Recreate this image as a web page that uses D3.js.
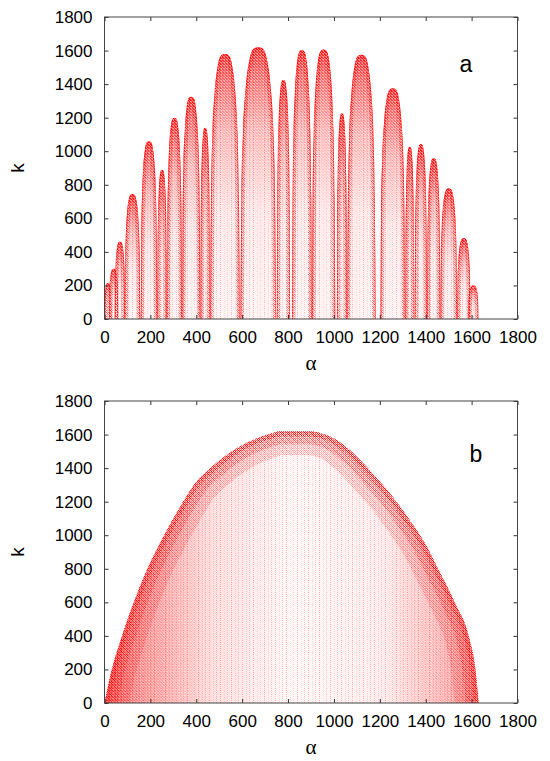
<!DOCTYPE html>
<html>
<head>
<meta charset="utf-8">
<script src="https://cdn.jsdelivr.net/npm/d3@7"></script>
<style>
  body { margin: 0; background: #fff; }
</style>
</head>
<body>
<script>
// ---- data ----
var alphaTicks = [0, 200, 400, 600, 800, 1000, 1200, 1400, 1600, 1800];
var kTicks = [0, 200, 400, 600, 800, 1000, 1200, 1400, 1600, 1800];

// panel a: one arch per lobe (alpha where it starts / ends, k at the top)
var lobeStart = [0, 20, 45, 88, 158, 230, 272, 338, 418, 460, 592, 751, 817, 904, 1013, 1057, 1202, 1311, 1352, 1406, 1464, 1537, 1585];
var lobeEnd   = [30, 60, 90, 156, 230, 272, 338, 418, 460, 590, 748, 809, 904, 1006, 1057, 1182, 1311, 1350, 1406, 1464, 1537, 1595, 1630];
var lobePeak  = [215, 300, 460, 745, 1060, 890, 1200, 1325, 1140, 1580, 1620, 1424, 1603, 1607, 1226, 1575, 1375, 1027, 1043, 958, 779, 481, 200];
// shape of one arch, position across it vs. share of its height
var profileT = [0, 0.03, 0.08, 0.15, 0.25, 0.38, 0.5, 0.62, 0.75, 0.85, 0.92, 0.97, 1];
var profileH = [0, 0.45, 0.7, 0.85, 0.95, 0.995, 1, 0.995, 0.95, 0.85, 0.7, 0.45, 0];

// panel b: outer edge of the cloud
var envAlpha = [0, 31, 75, 136, 187, 260, 340, 391, 463, 580, 711, 769, 890, 940, 990, 1040, 1110, 1180, 1250, 1320, 1391, 1457, 1529, 1588, 1617, 1631];
var envK     = [0, 195, 394, 630, 800, 1000, 1194, 1303, 1402, 1521, 1600, 1620, 1620, 1610, 1584, 1540, 1455, 1350, 1240, 1110, 965, 791, 592, 395, 195, 0];

var W = 550, H = 761;
var RED = "#ff0000";

var svg = d3.select("body").append("svg")
  .attr("width", W).attr("height", H)
  .style("font-family", "'Liberation Sans', Arial, sans-serif");

var defs = svg.append("defs");

function addGrad(id, vertical, stops) {
  var gr = defs.append("linearGradient").attr("id", id)
    .attr("x1", 0).attr("y1", 0).attr("x2", vertical ? 0 : 1).attr("y2", vertical ? 1 : 0);
  stops.forEach(function (s) {
    gr.append("stop").attr("offset", s[0]).attr("stop-color", RED).attr("stop-opacity", s[1]);
  });
}
// fading fill for the arches (top dense, bottom sparse)
addGrad("lobeFade", true, [[0, 0.85], [0.1, 0.6], [0.3, 0.3], [0.6, 0.1], [1, 0.05]]);
// panel b: dense at both sides, sparse in the middle
addGrad("cloudFade", false, [[0, 0.7], [0.1, 0.45], [0.28, 0.15], [0.5, 0.03], [0.75, 0.08], [0.9, 0.3], [1, 0.5]]);

// dotted vertical streaks
var streaks = defs.append("pattern").attr("id", "streaks")
  .attr("patternUnits", "userSpaceOnUse").attr("width", 11).attr("height", 2);
[[0, 0, 0.7], [4, 1, 0.35], [7, 0, 0.5]].forEach(function (r) {
  streaks.append("rect").attr("x", r[0]).attr("y", r[1]).attr("width", 1).attr("height", 1)
    .attr("fill", RED).attr("opacity", r[2]);
});

// stipple for the dense bands
var stip = defs.append("pattern").attr("id", "stipple")
  .attr("patternUnits", "userSpaceOnUse").attr("width", 2).attr("height", 2);
[[0, 0, 1], [1, 1, 1], [1, 0, 0.3]].forEach(function (r) {
  stip.append("rect").attr("x", r[0]).attr("y", r[1]).attr("width", 1).attr("height", 1)
    .attr("fill", RED).attr("opacity", r[2]);
});

// white speckles to break up flat colour
var speck = defs.append("pattern").attr("id", "speck")
  .attr("patternUnits", "userSpaceOnUse").attr("width", 3).attr("height", 3);
[[0, 1], [2, 0], [1, 2], [2, 2]].forEach(function (r) {
  speck.append("rect").attr("x", r[0]).attr("y", r[1]).attr("width", 1).attr("height", 1)
    .attr("fill", "#fff");
});

function makePanel(top, bottom, letter, letterX, letterY) {
  var x = d3.scaleLinear().domain([0, 1800]).range([104.5, 517.5]);
  var y = d3.scaleLinear().domain([0, 1800]).range([bottom, top]);
  var g = svg.append("g");
  var plot = g.append("g");

  function axes() {
    var ax = g.append("g");
    var fmt = d3.format("d");
    var b = ax.append("g").attr("transform", "translate(0," + bottom + ")")
      .call(d3.axisBottom(x).tickValues(alphaTicks).tickSizeInner(-4).tickSizeOuter(0).tickPadding(12).tickFormat(fmt));
    var t = ax.append("g").attr("transform", "translate(0," + top + ")")
      .call(d3.axisTop(x).tickValues(alphaTicks).tickSizeInner(-4).tickSizeOuter(0).tickFormat(""));
    var l = ax.append("g").attr("transform", "translate(104.5,0)")
      .call(d3.axisLeft(y).tickValues(kTicks).tickSizeInner(-4).tickSizeOuter(0).tickPadding(12).tickFormat(fmt));
    var r = ax.append("g").attr("transform", "translate(517.5,0)")
      .call(d3.axisRight(y).tickValues(kTicks).tickSizeInner(-4).tickSizeOuter(0).tickFormat(""));
    [b, t, l, r].forEach(function (s) {
      s.select(".domain").remove();
      s.selectAll("line").attr("stroke", "#333");
      s.selectAll("text").attr("fill", "#000")
        .style("font-size", "17px").style("font-family", "'Liberation Sans', Arial, sans-serif");
    });
    ax.append("rect").attr("x", 104.5).attr("y", top)
      .attr("width", 413).attr("height", bottom - top)
      .attr("fill", "none").attr("stroke", "#444").attr("stroke-width", 1);

    g.append("text").attr("transform", "translate(24," + ((top + bottom) / 2) + ") rotate(-90)")
      .attr("text-anchor", "middle").style("font-size", "19px").text("k");
    g.append("text").attr("x", (104.5 + 517.5) / 2).attr("y", bottom + 51)
      .attr("text-anchor", "middle").style("font-family", "'Liberation Serif', serif")
      .style("font-size", "21px").text("α");
    g.append("text").attr("x", letterX).attr("y", letterY)
      .attr("text-anchor", "middle").style("font-size", "23px").text(letter);
  }
  return { x: x, y: y, g: g, plot: plot, axes: axes };
}

// ---------------- panel a ----------------
var pa = makePanel(17, 319, "a", 466, 72);
var lobes = lobeStart.map(function (s, i) {
  return profileT.map(function (t, j) {
    return { a: s + t * (lobeEnd[i] - s), k: profileH[j] * lobePeak[i] };
  });
});
var areaA = d3.area().curve(d3.curveMonotoneX)
  .x(function (d) { return pa.x(d.a); })
  .y0(pa.y(0))
  .y1(function (d) { return pa.y(d.k); });
var lineA = d3.line().curve(d3.curveMonotoneX)
  .x(function (d) { return pa.x(d.a); })
  .y(function (d) { return pa.y(d.k); });

lobes.forEach(function (pts, i) {
  defs.append("clipPath").attr("id", "clipA" + i)
    .append("path").attr("d", areaA(pts));
  var lg = pa.plot.append("g").attr("clip-path", "url(#clipA" + i + ")");
  lg.append("path").attr("d", areaA(pts)).attr("fill", "url(#lobeFade)");
  lg.append("path").attr("d", areaA(pts)).attr("fill", "url(#streaks)").attr("opacity", 0.4);
  lg.append("path").attr("d", lineA(pts)).attr("fill", "none")
    .attr("stroke", "url(#stipple)").attr("stroke-width", 7).attr("opacity", 0.55);
  lg.append("path").attr("d", lineA(pts)).attr("fill", "none")
    .attr("stroke", RED).attr("stroke-width", 2).attr("opacity", 0.7);
  lg.append("path").attr("d", areaA(pts)).attr("fill", "url(#speck)").attr("opacity", 0.45);
});
pa.axes();

// ---------------- panel b ----------------
var pb = makePanel(401, 703, "b", 476, 462);
var env = envAlpha.map(function (a, i) { return { a: a, k: envK[i] }; });
var areaB = d3.area().curve(d3.curveMonotoneX)
  .x(function (d) { return pb.x(d.a); })
  .y0(pb.y(0))
  .y1(function (d) { return pb.y(d.k); });
var lineB = d3.line().curve(d3.curveMonotoneX)
  .x(function (d) { return pb.x(d.a); })
  .y(function (d) { return pb.y(d.k); });

defs.append("clipPath").attr("id", "clipB").append("path").attr("d", areaB(env));
var bg = pb.plot.append("g").attr("clip-path", "url(#clipB)");
bg.append("path").attr("d", areaB(env)).attr("fill", "url(#cloudFade)");
bg.append("path").attr("d", areaB(env)).attr("fill", "url(#streaks)").attr("opacity", 0.45);
[[48, 0.3], [26, 0.45], [10, 0.8]].forEach(function (s) {
  bg.append("path").attr("d", lineB(env)).attr("fill", "none")
    .attr("stroke", "url(#stipple)").attr("stroke-width", s[0]).attr("opacity", s[1]);
});
bg.append("path").attr("d", areaB(env)).attr("fill", "url(#speck)").attr("opacity", 0.35);
pb.axes();
</script>
</body>
</html>
